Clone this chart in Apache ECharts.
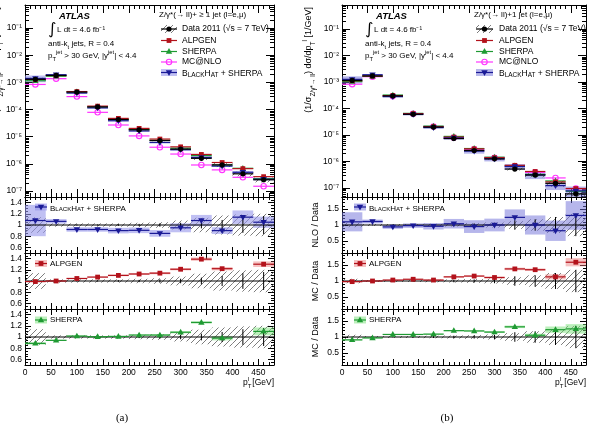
<!DOCTYPE html>
<html><head><meta charset="utf-8">
<script src="https://cdn.jsdelivr.net/npm/echarts@6/dist/echarts.min.js"></script>
<style>html,body{margin:0;padding:0;background:#fff}#c{width:594px;height:431px}</style>
</head><body><div id="c"></div>
<script>
// ---------------- data ----------------
const binEdges = [0,40,80,120,160,200,240,280,320,360,400,440,480];
const xTickValues = [0,50,100,150,200,250,300,350,400,450];
const mainTickValues = [1e-7,1e-6,1e-5,1e-4,1e-3,1e-2,1e-1];
const leftRatioTicks = [0.6,0.8,1,1.2,1.4];
const rightRatioTicks = [0.5,1,1.5];

// (a) Z/gamma* + >= 1 jet
const incData = [1.3e-3,1.8e-3,4.4e-4,1.25e-4,4.3e-5,1.8e-5,7.2e-6,3.5e-6,1.6e-6,9.2e-7,4.3e-7,2.6e-7];
const incDataSyst = [0.14,0.03,0.03,0.03,0.03,0.04,0.05,0.08,0.13,0.17,0.19,0.2];
const incDataStat = [0.005,0.005,0.01,0.01,0.015,0.02,0.03,0.04,0.06,0.09,0.14,0.16];
const incMcnlo = [8.4e-4,1.37e-3,3.0e-4,7.9e-5,2.7e-5,1.07e-5,4.1e-6,2.3e-6,9.1e-7,6.0e-7,3.2e-7,1.5e-7];
const incAlpgenRatio = [0.99,1.0,1.045,1.07,1.1,1.125,1.14,1.21,1.39,1.22,1.55,1.3];
const incAlpgenBand = [0.01,0.01,0.01,0.01,0.015,0.015,0.02,0.02,0.03,0.03,0.04,0.05];
const incSherpaRatio = [0.886,0.94,1.017,1.005,1.01,1.035,1.035,1.085,1.26,0.98,1.6,1.1];
const incSherpaBand = [0.02,0.01,0.01,0.01,0.01,0.01,0.015,0.02,0.02,0.04,0.06,0.07];
const incBlackhatRatio = [1.08,1.065,0.92,0.92,0.9,0.905,0.85,0.95,1.08,0.9,1.14,1.05];
const incBlackhatBand = [0.28,0.04,0.04,0.04,0.05,0.05,0.06,0.08,0.1,0.06,0.12,0.1];

// (b) Z/gamma* + 1 jet
const excData = [1.15e-3,1.7e-3,3.0e-4,6.1e-5,2.0e-5,7.4e-6,2.6e-6,1.26e-6,5.2e-7,3.1e-7,1.5e-7,6.0e-8];
const excDataSyst = [0.07,0.03,0.03,0.03,0.04,0.05,0.06,0.08,0.12,0.18,0.25,0.35];
const excDataStat = [0.01,0.01,0.01,0.02,0.03,0.04,0.05,0.07,0.15,0.18,0.25,0.35];
const excMcnlo = [8.3e-4,1.6e-3,2.9e-4,6.3e-5,2.1e-5,7.9e-6,2.9e-6,1.4e-6,6.6e-7,3.9e-7,2.4e-7,9.5e-8];
const excAlpgenRatio = [0.98,1.0,1.03,1.055,1.03,1.13,1.155,1.11,1.38,1.355,1.13,1.59];
const excAlpgenBand = [0.02,0.01,0.01,0.01,0.015,0.02,0.02,0.03,0.04,0.04,0.08,0.13];
const excSherpaRatio = [0.91,0.97,1.08,1.08,1.09,1.2,1.19,1.155,1.32,1.055,1.23,1.255];
const excSherpaBand = [0.02,0.01,0.01,0.01,0.015,0.02,0.02,0.03,0.04,0.05,0.1,0.15];
const excBlackhatRatio = [1.1,1.11,0.94,0.98,0.96,1.04,0.95,1.0,1.24,1.0,0.82,1.3];
const excBlackhatBand = [0.3,0.06,0.06,0.07,0.1,0.15,0.2,0.2,0.25,0.3,0.32,0.45];

// ---------------- style ----------------
const FONT = '"Liberation Sans", Arial, Helvetica, sans-serif';
const ALP_C = '#b3121b', ALP_BAND = 'rgba(235,120,120,0.45)';
const SHE_C = '#1f9a33', SHE_BAND = 'rgba(120,225,120,0.5)';
const MCNLO_C = '#ff33ff';
const BH_C = '#1a1a96';

function makeHatch() {
  const c = document.createElement('canvas'); c.width = 6; c.height = 6;
  const g = c.getContext('2d');
  g.strokeStyle = '#666'; g.lineWidth = 0.85;
  g.beginPath();
  g.moveTo(0,6); g.lineTo(6,0);
  g.moveTo(-1,1); g.lineTo(1,-1);
  g.moveTo(5,7); g.lineTo(7,5);
  g.stroke();
  return {image: c, repeat: 'repeat'};
}
const hatch = makeHatch();

function marker(kind, x, y, color) {
  switch (kind) {
    case 'square': return {type:'rect', shape:{x:x-2.4,y:y-2.4,width:4.8,height:4.8}, style:{fill:color}};
    case 'tri': return {type:'polygon', shape:{points:[[x,y-3.4],[x-3.2,y+2.2],[x+3.2,y+2.2]]}, style:{fill:color}};
    case 'tridown': return {type:'polygon', shape:{points:[[x,y+3.4],[x-3.2,y-2.2],[x+3.2,y-2.2]]}, style:{fill:color}};
    case 'circle': return {type:'circle', shape:{cx:x,cy:y,r:2.6}, style:{fill:color}};
    case 'ocircle': return {type:'circle', shape:{cx:x,cy:y,r:2.7}, style:{fill:'rgba(255,255,255,0)', stroke:color, lineWidth:1.1}};
  }
  return null;
}

function bandSeries(g, rows, fill) {
  return {type:'custom', xAxisIndex:g*4, yAxisIndex:g*4, silent:true, animation:false,
    encode:{x:[0,1], y:[2]}, data: rows,
    renderItem(params, api) {
      const a = api.coord([api.value(0), api.value(3)]);
      const b = api.coord([api.value(1), api.value(4)]);
      const shape = echarts.graphic.clipRectByRect({x:Math.min(a[0],b[0]), y:Math.min(a[1],b[1]),
        width:Math.abs(b[0]-a[0]), height:Math.abs(b[1]-a[1])}, params.coordSys);
      if (!shape) return null;
      return {type:'rect', shape, style:{fill}};
    }};
}

function lmSeries(g, rows, color, kind, lw) {
  return {type:'custom', xAxisIndex:g*4, yAxisIndex:g*4, silent:true, animation:false,
    encode:{x:[0,1], y:[2]}, data: rows,
    renderItem(params, api) {
      const x0 = api.value(0), x1 = api.value(1), v = api.value(2);
      const cs = params.coordSys;
      const a = api.coord([x0, v]), b = api.coord([x1, v]), c = api.coord([(x0+x1)/2, v]);
      if (!(c[1] >= cs.y - 0.01 && c[1] <= cs.y + cs.height + 0.01)) return null;
      const ch = [{type:'line', shape:{x1:a[0],y1:a[1],x2:b[0],y2:b[1]}, style:{stroke:color, lineWidth: lw || 1.2}}];
      if (kind) ch.push(marker(kind, c[0], c[1], color));
      return {type:'group', children: ch};
    }};
}

function statSeries(g, rows) {
  return {type:'custom', xAxisIndex:g*4, yAxisIndex:g*4, silent:true, animation:false,
    encode:{x:[0,1], y:[2]}, data: rows,
    renderItem(params, api) {
      const xc = (api.value(0) + api.value(1)) / 2;
      const cs = params.coordSys;
      const a = api.coord([xc, api.value(3)]), b = api.coord([xc, api.value(4)]);
      const y1 = Math.min(Math.max(a[1], cs.y), cs.y + cs.height);
      const y2 = Math.min(Math.max(b[1], cs.y), cs.y + cs.height);
      return {type:'line', shape:{x1:a[0], y1, x2:a[0], y2}, style:{stroke:'#000', lineWidth:1}};
    }};
}

// ---------------- layout ----------------
const panelCfg = [
  {left:25, width:249, mainRange:[Math.pow(10,-7.22), Math.pow(10,-0.15)], ratioRange:[0.5,1.5], ratioTicks:leftRatioTicks, minorStep:0.05,
   data:incData, syst:incDataSyst, stat:incDataStat, mcnlo:incMcnlo, alp:incAlpgenRatio, alpB:incAlpgenBand,
   she:incSherpaRatio, sheB:incSherpaBand, bh:incBlackhatRatio, bhB:incBlackhatBand, bhFill:'rgba(150,150,235,0.6)'},
  {left:342, width:244, mainRange:[Math.pow(10,-7.34), Math.pow(10,-0.09)], ratioRange:[0.12,1.88], ratioTicks:rightRatioTicks, minorStep:0.1,
   data:excData, syst:excDataSyst, stat:excDataStat, mcnlo:excMcnlo, alp:excAlpgenRatio, alpB:excAlpgenBand,
   she:excSherpaRatio, sheB:excSherpaBand, bh:excBlackhatRatio, bhB:excBlackhatBand, bhFill:'rgba(110,110,215,0.5)'}
];
const rowCfg = [{top:5,height:192},{top:197,height:56},{top:253,height:56},{top:309,height:56}];

const xMinor = []; for (let v = 0; v <= 480; v += 10) xMinor.push(v);
const logMinor = []; for (let e = -8; e <= 0; e++) for (let k = 2; k <= 9; k++) logMinor.push(k * Math.pow(10, e));
const SUP = {'-':'⁻','0':'⁰','1':'¹','2':'²','3':'³','4':'⁴','5':'⁵','6':'⁶','7':'⁷','8':'⁸','9':'⁹'};
const supStr = s => String(s).split('').map(ch => SUP[ch] || ch).join('');

const grids = [], xAxes = [], yAxes = [], series = [];
const tickStyle = {color:'#000', width:1};
const axLine = {show:true, onZero:false, lineStyle:{color:'#000', width:1}};
const noLine = {show:false, onZero:false};

panelCfg.forEach((P, pi) => {
  rowCfg.forEach((R, ri) => {
    const gi = grids.length;
    grids.push({left:P.left, top:R.top, width:P.width, height:R.height, containLabel:false, outerBoundsMode:'none'});
    const isMain = ri === 0;
    const majLen = isMain ? 8 : 6, minLen = isMain ? 4 : 3;
    const xBase = {gridIndex:gi, type:'value', min:0, max:480, splitLine:{show:false}};
    ['bottom','top'].forEach(pos => {
      xAxes.push(Object.assign({}, xBase, {position:pos, axisLine:axLine,
        axisTick:{show:true, inside:true, length:majLen, customValues:xTickValues, lineStyle:tickStyle},
        axisLabel:{show: pos === 'bottom' && ri === 3, customValues:xTickValues, fontSize:8.5, fontFamily:FONT, color:'#000', margin:3}}));
      xAxes.push(Object.assign({}, xBase, {position:pos, axisLine:noLine,
        axisTick:{show:true, inside:true, length:minLen, customValues:xMinor, lineStyle:tickStyle}, axisLabel:{show:false}}));
    });
    let yBase, major, minor, fmt;
    if (isMain) {
      yBase = {gridIndex:gi, type:'log', logBase:10, min:P.mainRange[0], max:P.mainRange[1], splitLine:{show:false}};
      major = mainTickValues; minor = logMinor;
      fmt = v => '10' + supStr(Math.round(Math.log10(v)));
    } else {
      yBase = {gridIndex:gi, type:'value', min:P.ratioRange[0], max:P.ratioRange[1], splitLine:{show:false}};
      major = P.ratioTicks;
      minor = [];
      for (let v = Math.ceil(P.ratioRange[0] / P.minorStep) * P.minorStep; v <= P.ratioRange[1] + 1e-9; v += P.minorStep) minor.push(Math.round(v * 1000) / 1000);
      fmt = v => String(Math.round(v * 10) / 10);
    }
    ['left','right'].forEach(pos => {
      yAxes.push(Object.assign({}, yBase, {position:pos, axisLine:axLine,
        axisTick:{show:true, inside:true, length:majLen, customValues:major, lineStyle:tickStyle},
        axisLabel:{show: pos === 'left', customValues:major, formatter:fmt, fontSize:8.5, fontFamily:FONT, color:'#000', margin:3}}));
      yAxes.push(Object.assign({}, yBase, {position:pos, axisLine:noLine,
        axisTick:{show:true, inside:true, length:minLen, customValues:minor, lineStyle:tickStyle}, axisLabel:{show:false}}));
    });
  });

  const mg = pi * 4;
  const e = binEdges;
  const bhMain = P.data.map((d, i) => d * P.bh[i]);
  series.push(bandSeries(mg, bhMain.map((v, i) => [e[i], e[i+1], v, v * (1 - P.bhB[i]), v * (1 + P.bhB[i])]), P.bhFill));
  series.push(bandSeries(mg, P.data.map((d, i) => [e[i], e[i+1], d, d * (1 - P.syst[i]), d * (1 + P.syst[i])]), hatch));
  series.push(lmSeries(mg, P.mcnlo.map((v, i) => [e[i], e[i+1], v]), MCNLO_C, 'ocircle'));
  series.push(lmSeries(mg, P.data.map((d, i) => [e[i], e[i+1], d * P.she[i]]), SHE_C, 'tri'));
  series.push(lmSeries(mg, P.data.map((d, i) => [e[i], e[i+1], d * P.alp[i]]), ALP_C, 'square'));
  series.push(lmSeries(mg, bhMain.map((v, i) => [e[i], e[i+1], v]), BH_C, 'tridown'));
  series.push(lmSeries(mg, P.data.map((d, i) => [e[i], e[i+1], d]), '#000', 'circle'));

  [[P.bh, P.bhB, BH_C, P.bhFill, 'tridown'], [P.alp, P.alpB, ALP_C, ALP_BAND, 'square'], [P.she, P.sheB, SHE_C, SHE_BAND, 'tri']]
    .forEach((m, k) => {
      const g = mg + 1 + k;
      series.push(bandSeries(g, P.syst.map((s, i) => [e[i], e[i+1], 1, 1 - s, 1 + s]), hatch));
      series.push(bandSeries(g, m[0].map((r, i) => [e[i], e[i+1], r, r - m[1][i], r + m[1][i]]), m[3]));
      series.push(lmSeries(g, [[e[0], e[e.length - 1], 1]], '#000', null, 1));
      series.push(statSeries(g, P.stat.map((s, i) => [e[i], e[i+1], 1, 1 - s, 1 + s])));
      series.push(lmSeries(g, m[0].map((r, i) => [e[i], e[i+1], r]), m[2], m[4]));
    });
});

// ---------------- texts ----------------
function T(x, y, text, size, o) {
  o = o || {};
  const style = {text, fontSize:size, fontFamily:o.family || FONT, fill:o.color || '#000',
    fontWeight:o.weight || 'normal', fontStyle:o.italic ? 'italic' : 'normal',
    align:o.align || 'left', verticalAlign:o.valign || 'middle',
    textAlign:o.align || 'left', textVerticalAlign:o.valign || 'middle'};
  if (o.rich) style.rich = o.rich;
  const el = {type:'text', x, y, silent:true, z:10, style};
  if (o.rotation) el.rotation = o.rotation;
  return el;
}
function richSet(base) {
  return {
    n:{fontSize:base, fontFamily:FONT, lineHeight:base + 5},
    sb:{fontSize:base * 0.72, fontFamily:FONT, verticalAlign:'bottom', lineHeight:base * 0.8},
    sp:{fontSize:base * 0.72, fontFamily:FONT, verticalAlign:'top', lineHeight:base * 0.8},
    a:{fontSize:base, fontFamily:FONT, verticalAlign:'bottom', lineHeight:base + 2},
    b:{fontSize:base * 0.76, fontFamily:FONT, verticalAlign:'bottom', lineHeight:base * 0.76 + 2}
  };
}
function icon(x0, x1, y, kind, color, band, h) {
  const els = [];
  h = h || 7;
  if (band) els.push({type:'rect', silent:true, z:10, shape:{x:x0, y:y - h/2, width:x1 - x0, height:h}, style:{fill:band}});
  els.push({type:'line', silent:true, z:10, shape:{x1:x0, y1:y, x2:x1, y2:y}, style:{stroke:color, lineWidth:1.2}});
  const m = marker(kind, (x0 + x1) / 2, y, color); m.silent = true; m.z = 10; els.push(m);
  return els;
}

const graphics = [];
const bhLabel = '{a|B}{b|LACK}{a|H}{b|AT}{a| + SHERPA}';
const yTitle = '{n|(1/σ}{sb|Z/γ*→ ll}{n|) dσ/dp}{sb|T}{sp|l}{n| [1/GeV]}';
[{dx:0, header:'Z/γ*(→ ll)+ ≥ 1 jet (l=e,μ)'}, {dx:317, header:'Z/γ*(→ ll)+1 jet (l=e,μ)'}].forEach((L, li) => {
  const dx = L.dx;
  graphics.push(T(59 + dx, 16, 'ATLAS', 9.5, {weight:'bold', italic:true}));
  graphics.push(T(48 + dx, 29.5, '∫', 16, {family:'"DejaVu Sans", sans-serif'}));
  graphics.push(T(57 + dx, 30, 'L dt = 4.6 fb⁻¹', 8));
  graphics.push(T(48 + dx, 44, '{n|anti-k}{sb|t}{n| jets, R = 0.4}', 8, {rich:richSet(8)}));
  graphics.push(T(48 + dx, 56, '{n|p}{sb|T}{sp|jet}{n| > 30 GeV, |y}{sp|jet}{n|| < 4.4}', 8, {rich:richSet(8)}));
  const lx0 = li === 0 ? 161 : 476, lx1 = li === 0 ? 177 : 493, tx = li === 0 ? 182 : 499;
  graphics.push(T(lx0 - 2, 15, L.header, 8));
  // data legend icon
  graphics.push({type:'rect', silent:true, z:10, shape:{x:lx0, y:25, width:lx1 - lx0, height:8}, style:{fill:hatch}});
  graphics.push({type:'line', silent:true, z:10, shape:{x1:lx0, y1:29, x2:lx1, y2:29}, style:{stroke:'#000', lineWidth:1.2}});
  graphics.push({type:'circle', silent:true, z:10, shape:{cx:(lx0 + lx1) / 2, cy:29, r:2.6}, style:{fill:'#000'}});
  graphics.push(T(tx, 29, 'Data 2011 (√s = 7 TeV)', 8.5));
  icon(lx0, lx1, 40.5, 'square', ALP_C).forEach(x => graphics.push(x));
  graphics.push(T(tx, 40.5, 'ALPGEN', 8.5));
  icon(lx0, lx1, 51.5, 'tri', SHE_C).forEach(x => graphics.push(x));
  graphics.push(T(tx, 51.5, 'SHERPA', 8.5));
  icon(lx0, lx1, 62, 'ocircle', MCNLO_C).forEach(x => graphics.push(x));
  graphics.push(T(tx, 62, 'MC@NLO', 8.5));
  icon(lx0, lx1, 72.5, 'tridown', BH_C, panelCfg[li].bhFill).forEach(x => graphics.push(x));
  graphics.push(T(tx, 73, bhLabel, 8.5, {rich:richSet(8.5)}));
  // ratio legends
  const rx0 = li === 0 ? 35 : 354, rx1 = li === 0 ? 47 : 366, rtx = li === 0 ? 50 : 369;
  icon(rx0, rx1, 207, 'tridown', BH_C, panelCfg[li].bhFill).forEach(x => graphics.push(x));
  graphics.push(T(rtx, 207.5, bhLabel, 8, {rich:richSet(8)}));
  icon(rx0, rx1, 263.5, 'square', ALP_C, ALP_BAND).forEach(x => graphics.push(x));
  graphics.push(T(rtx, 263.5, 'ALPGEN', 8));
  icon(rx0, rx1, 320, 'tri', SHE_C, SHE_BAND).forEach(x => graphics.push(x));
  graphics.push(T(rtx, 320, 'SHERPA', 8));
  // axis titles
  const titleX = li === 0 ? -3 : 309, rTitleX = li === 0 ? -3 : 316;
  graphics.push(T(titleX, 7, yTitle, 9, {rich:richSet(9), align:'right', rotation:Math.PI / 2}));
  graphics.push(T(rTitleX, 225, 'NLO / Data', 9, {align:'center', rotation:Math.PI / 2}));
  graphics.push(T(rTitleX, 281, 'MC / Data', 9, {align:'center', rotation:Math.PI / 2}));
  graphics.push(T(rTitleX, 337, 'MC / Data', 9, {align:'center', rotation:Math.PI / 2}));
  const xr = panelCfg[li].left + panelCfg[li].width;
  graphics.push(T(xr, 383, ' [GeV]', 8.5, {align:'right'}));
  graphics.push(T(xr - 31, 383, 'p', 8.5));
  graphics.push(T(xr - 26.3, 386, 'T', 6));
  graphics.push(T(xr - 26, 379, 'l', 6));
});
graphics.push(T(122, 418, '(a)', 11, {family:'"Liberation Serif", "DejaVu Serif", serif', align:'center'}));
graphics.push(T(447, 418, '(b)', 11, {family:'"Liberation Serif", "DejaVu Serif", serif', align:'center'}));

const chart = echarts.init(document.getElementById('c'), null, {renderer:'canvas', width:594, height:431});
chart.setOption({
  animation:false, backgroundColor:'#fff',
  grid:grids, xAxis:xAxes, yAxis:yAxes, series, graphic:graphics
});
</script></body></html>
